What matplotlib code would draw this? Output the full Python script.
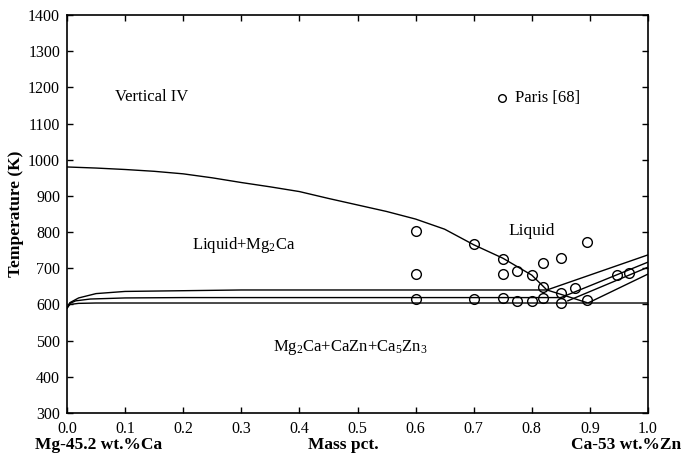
import matplotlib
matplotlib.use("Agg")
import matplotlib.pyplot as plt

plt.rcParams['font.family'] = ['Liberation Serif', 'DejaVu Serif']
plt.rcParams['mathtext.fontset'] = 'custom'
plt.rcParams['mathtext.rm'] = 'Liberation Serif'
plt.rcParams['mathtext.it'] = 'Liberation Serif:italic'
plt.rcParams['mathtext.bf'] = 'Liberation Serif:bold'

# Mg2Ca liquidus
liq_x = [0.0, 0.05, 0.1, 0.15, 0.2, 0.25, 0.3, 0.35, 0.4, 0.45, 0.5, 0.55,
         0.6, 0.65, 0.7, 0.75, 0.8, 0.826, 0.85, 0.895]
liq_t = [980, 977, 973, 968, 961, 950, 937, 925, 912, 893, 875, 857,
         836, 808, 765, 728, 681, 640, 628, 605]

# three invariant-type lines running across the section
top_x = [0.0, 0.005, 0.02, 0.05, 0.1, 0.2, 0.3, 0.826]
top_t = [590, 605, 618, 630, 636, 638, 640, 640]
mid_x = [0.0, 0.005, 0.015, 0.04, 0.1, 0.2, 0.85]
mid_t = [590, 603, 610, 615, 618, 619, 619]
bot_x = [0.0, 0.005, 0.02, 0.05, 1.0]
bot_t = [590, 600, 603, 604, 604]

# lines rising towards the Ca-Zn side
r1_x, r1_t = [0.826, 1.0], [640, 737]
r2_x, r2_t = [0.85, 1.0], [619, 717]
r3_x, r3_t = [0.862, 1.0], [610, 703]
r4_x, r4_t = [0.898, 1.0], [605, 684]

# Paris [68] measurements
exp_x = [0.6, 0.6, 0.6, 0.7, 0.7, 0.75, 0.75, 0.75, 0.775, 0.775, 0.8, 0.8,
         0.82, 0.82, 0.82, 0.85, 0.85, 0.85, 0.875, 0.895, 0.895, 0.947, 0.968]
exp_t = [803, 684, 615, 767, 615, 726, 684, 617, 692, 610, 681, 610,
         715, 648, 617, 728, 631, 605, 645, 773, 612, 681, 686]

xticks = [0.0, 0.1, 0.2, 0.3, 0.4, 0.5, 0.6, 0.7, 0.8, 0.9, 1.0]
yticks = [300, 400, 500, 600, 700, 800, 900, 1000, 1100, 1200, 1300, 1400]

fig = plt.figure(figsize=(6.91, 4.59), dpi=100)
ax = fig.add_axes([67 / 691, 1 - 413 / 459, 581 / 691, 398 / 459])

lw = 1.0
for xs, ts in [(liq_x, liq_t), (top_x, top_t), (mid_x, mid_t), (bot_x, bot_t),
               (r1_x, r1_t), (r2_x, r2_t), (r3_x, r3_t), (r4_x, r4_t)]:
    ax.plot(xs, ts, color='black', lw=lw)

ax.plot(exp_x, exp_t, 'o', ms=7, mfc='none', mec='black', mew=1.0)

# key
ax.plot([0.749], [1171], 'o', ms=5.5, mfc='none', mec='black', mew=1.0)
ax.text(0.771, 1171, 'Paris [68]', fontsize=12, va='center', ha='left')

ax.text(0.082, 1173, 'Vertical IV', fontsize=12, va='center', ha='left')
ax.text(0.80, 803, 'Liquid', fontsize=12.5, va='center', ha='center')
ax.text(0.305, 764, r'Liquid+Mg$_2$Ca', fontsize=12, va='center', ha='center')
ax.text(0.487, 482, r'Mg$_2$Ca+CaZn+Ca$_5$Zn$_3$', fontsize=12,
        va='center', ha='center')

ax.set_xlim(0, 1.0)
ax.set_ylim(300, 1400)
ax.set_xticks(xticks)
ax.set_xticklabels(['%.1f' % v for v in xticks])
ax.set_yticks(yticks)
ax.tick_params(direction='in', length=4, width=1.0, labelsize=11.5,
               top=True, right=True, labeltop=False, labelright=False)
ax.tick_params(axis='x', pad=6)
ax.tick_params(axis='y', pad=5)
for s in ax.spines.values():
    s.set_linewidth(1.2)

ax.set_ylabel('Temperature (K)', fontsize=12.5, fontweight='bold', labelpad=3)

fig.text(35 / 691, 1 - 445 / 459, 'Mg-45.2 wt.%Ca', fontsize=12.5,
         fontweight='bold', ha='left', va='center')
fig.text(343 / 691, 1 - 445 / 459, 'Mass pct.', fontsize=12.5,
         fontweight='bold', ha='center', va='center')
fig.text(681 / 691, 1 - 445 / 459, 'Ca-53 wt.%Zn', fontsize=12.5,
         fontweight='bold', ha='right', va='center')

fig.savefig('out.png', dpi=100)
